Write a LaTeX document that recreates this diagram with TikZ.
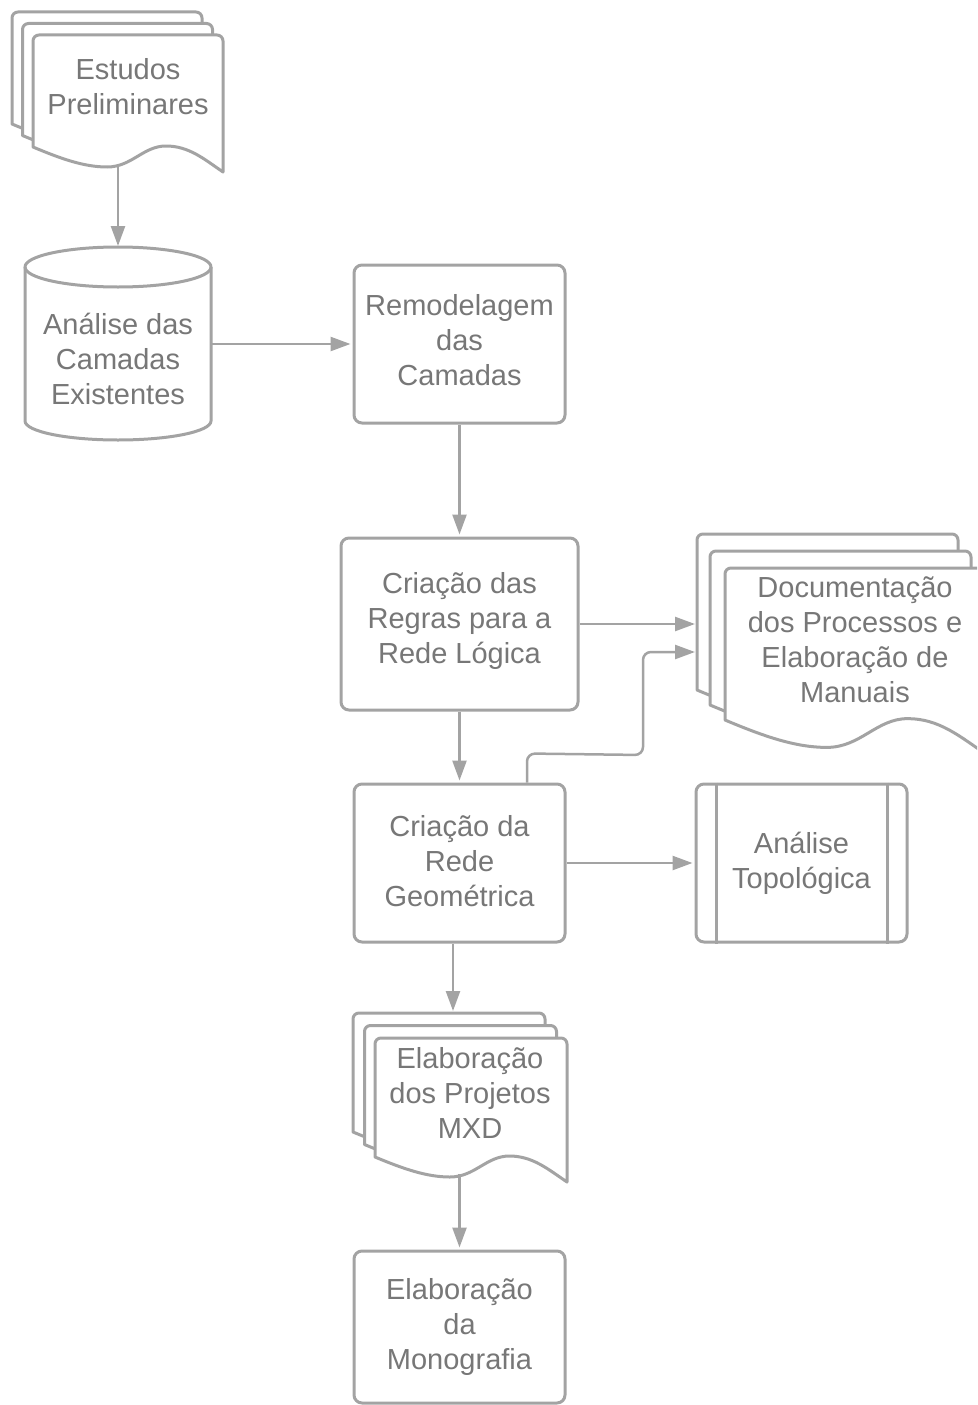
\documentclass[tikz,border=0pt]{standalone}
\usepackage{fontspec}
\setmainfont{Liberation Sans}
\usetikzlibrary{arrows.meta}
\definecolor{lc}{HTML}{A3A3A3}
\definecolor{tc}{HTML}{777777}
\tikzset{
 shapeline/.style={draw=lc, line width=3pt, line join=round},
 box/.style={shapeline, rounded corners=8pt, fill=white, align=center, text=tc, font=\fontsize{29}{35}\selectfont, inner sep=0pt},
 lbl/.style={align=center, text=tc, font=\fontsize{29}{35}\selectfont, inner sep=0pt},
 anchorbox/.style={draw=none, inner sep=0pt, outer sep=0pt},
 arr/.style={draw=lc, line width=2.5pt, -{Triangle[length=20pt,width=14pt]}, shorten >=2pt},
}
\newcommand\docpage[5]{%
 \filldraw[shapeline, fill=white] (#1,#2+#4) -- (#1,#2+6) arc[start angle=180,end angle=270,radius=6] -- (#1+#3-6,#2) arc[start angle=270,end angle=360,radius=6] -- (#1+#3,#2+#4+25*#5) .. controls (#1+0.9*#3,#2+#4+12*#5) and (#1+0.82*#3,#2+#4-1*#5) .. (#1+0.7*#3,#2+#4-1*#5) .. controls (#1+0.58*#3,#2+#4-1*#5) and (#1+0.52*#3,#2+#4+20*#5) .. (#1+0.39*#3,#2+#4+20*#5) .. controls (#1+0.27*#3,#2+#4+20*#5) and (#1+0.15*#3,#2+#4+12*#5) .. (#1,#2+#4) -- cycle;
}
\begin{document}
\begin{tikzpicture}[x=1pt,y=-1pt]
\useasboundingbox (0,0) rectangle (977,1405);
\clip (0,0) rectangle (977,1405);

% Estudos Preliminares (multi-document)
\docpage{12}{12}{190}{112}{1}
\docpage{22.5}{23.5}{190}{112}{1}
\docpage{33}{35}{190}{112}{1}
\node[lbl] (es) at (128,87) {Estudos\\Preliminares};
\coordinate (esout) at (118,164);

% Cylinder
\filldraw[shapeline, fill=white] (25,267) -- (25,421) arc[start angle=180,end angle=0,x radius=93,y radius=19] -- (211,267);
\draw[shapeline] (118,267) ellipse[x radius=93,y radius=20];
\node[anchorbox, minimum width=186, minimum height=192] (cyl) at (118,344) {};
\node[lbl] (cylT) at (118,359) {Análise das\\Camadas\\Existentes};

% Rectangles
\node[box, minimum width=211, minimum height=158] (rem) at (459.5,344) {};
\node[lbl] (remT) at (459.5,340) {Remodelagem\\das\\Camadas};
\node[box, minimum width=237, minimum height=172] (crr) at (459.5,624) {};
\node[lbl] (crrT) at (459.5,621) {Criação das\\Regras para a\\Rede Lógica};
\node[box, minimum width=211, minimum height=158] (crg) at (459.5,863) {};
\node[lbl] (crgT) at (459.5,861) {Criação da\\Rede\\Geométrica};
\node[box, minimum width=211, minimum height=158] (at) at (801.5,863) {Análise\\Topológica};
\draw[shapeline] ([xshift=22pt]at.north west) -- ([xshift=22pt]at.south west);
\draw[shapeline] ([xshift=-21pt]at.north east) -- ([xshift=-21pt]at.south east);
\node[box, minimum width=211, minimum height=152] (mono) at (459.5,1327) {Elaboração\\da\\Monografia};

% Documentação (multi-document)
\docpage{697}{534}{261}{156}{1.37}
\docpage{710}{551}{261}{154}{1.37}
\docpage{725}{568}{261}{152}{1.37}
\node[anchorbox, minimum width=261, minimum height=160, anchor=north west] (doc) at (697,534) {};
\node[lbl] (docT) at (855,640) {Documentação\\dos Processos e\\Elaboração de\\Manuais};

% MXD (multi-document)
\docpage{353}{1013}{192}{119}{1}
\docpage{364.5}{1025.5}{192}{119}{1}
\docpage{375}{1038}{192}{119}{1}
\node[anchorbox, minimum width=192, minimum height=120, anchor=north west] (mxd) at (353,1013) {};
\node[lbl] (mxdT) at (470,1093) {Elaboração\\dos Projetos\\MXD};
\coordinate (mxdout) at (459.5,1174);

% Connectors
\draw[arr] (esout) -- (cyl.north);
\draw[arr] (cyl.east) -- (rem.west);
\draw[arr] (rem.south) -- (crr.north);
\draw[arr] (crr.south) -- (crg.north);
\draw[arr] (crr.east) -- (crr.east -| doc.west);
\draw[arr, rounded corners=8pt] ([xshift=67.5pt]crg.north) -- ++(0,-29) -- (643,755) -- (643,652) -- (doc.west |- 0,652);
\draw[arr] (crg.east) -- (at.west);
\draw[arr] ([xshift=-6.5pt]crg.south) -- ([xshift=-6.5pt]crg.south |- mxd.north);
\draw[arr] (mxdout) -- (mono.north);
\end{tikzpicture}
\end{document}
